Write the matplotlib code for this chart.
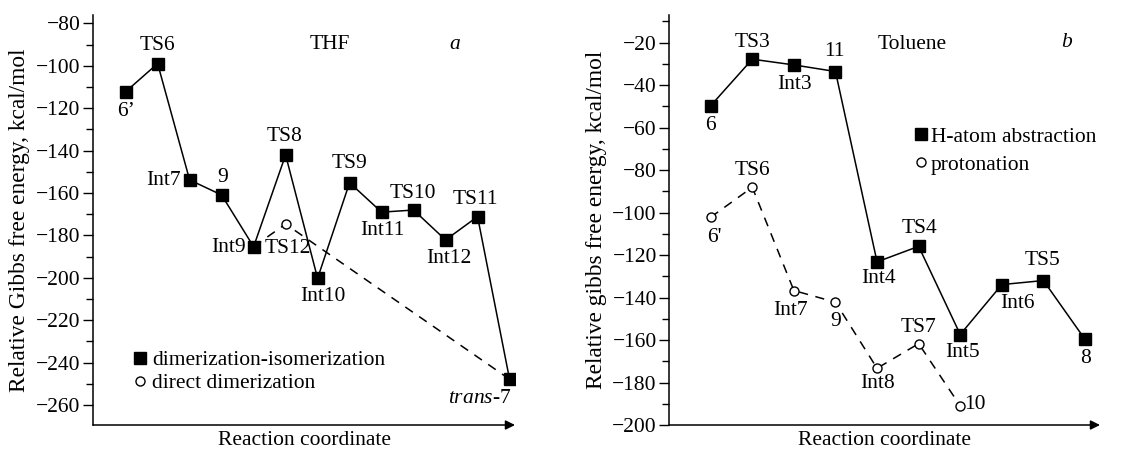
import matplotlib
matplotlib.use('Agg')
import matplotlib.pyplot as plt
from matplotlib.ticker import MultipleLocator
from matplotlib.lines import Line2D

plt.rcParams['font.family'] = ['Liberation Serif', 'DejaVu Serif']
plt.rcParams['mathtext.fontset'] = 'custom'
plt.rcParams['mathtext.rm'] = 'Liberation Serif'
plt.rcParams['mathtext.it'] = 'Liberation Serif:italic'
FS = 15.5
plt.rcParams['font.size'] = FS

# ---------------- data: panel a (THF) ----------------
thf_labels = ["6’", "TS6", "Int7", "9", "Int9", "TS8", "Int10", "TS9",
              "Int11", "TS10", "Int12", "TS11", r"$\mathit{trans}$-7"]
thf_energy = [-112.2, -98.9, -153.8, -160.9, -185.3, -142.0, -200.2,
              -155.1, -169.0, -168.0, -182.1, -171.1, -247.8]
thf_direct_steps = [4, 5, 12]
thf_direct_energy = [-185.3, -174.6, -247.8]
thf_direct_labels = ["", "TS12", ""]

# ---------------- data: panel b (Toluene) ----------------
tol_h_labels = ["6", "TS3", "Int3", "11", "Int4", "TS4", "Int5", "Int6", "TS5", "8"]
tol_h_energy = [-49.7, -27.8, -30.5, -33.6, -123.2, -115.9, -157.4, -133.9, -132.0, -159.7]
tol_p_labels = ["6'", "TS6", "Int7", "9", "Int8", "TS7", "10"]
tol_p_energy = [-102.2, -88.1, -136.7, -142.2, -173.3, -161.7, -191.0]

# label offsets in pixels (dx, dy, ha)  -- styling only
thf_off = [(0, -20, 'center'), (0, 18, 'center'), (-9, -1, 'right'), (1, 17, 'center'),
           (-8, -1, 'right'), (-1, 18, 'center'), (5, -18, 'center'), (0, 19, 'center'),
           (1, -18, 'center'), (-1, 17, 'center'), (3, -19, 'center'), (-2, 17, 'center'),
           (2, -19, 'right')]
thf_direct_off = [None, (2, -24, 'center'), None]
tol_h_off = [(0, -20, 'center'), (0, 17, 'center'), (1, -20, 'center'), (-1, 20, 'center'),
             (1, -17, 'center'), (1, 18, 'center'), (2, -18, 'center'), (16, -19, 'center'),
             (-1, 20, 'center'), (1, -19, 'center')]
tol_p_off = [(4, -20, 'center'), (0, 17, 'center'), (-3, -20, 'center'), (0, -19, 'center'),
             (0, -15, 'center'), (0, 16, 'center'), (4, 1, 'left')]

fig = plt.figure(figsize=(11.47, 4.5), dpi=100)
axa = fig.add_axes([93/1147, 25/450, 422/1147, 410/450])
axb = fig.add_axes([669.3/1147, 25/450, 430.7/1147, 410/450])

LW = 1.1
SQ = dict(marker='s', markersize=9, color='black', markerfacecolor='black')
CI = dict(marker='o', markersize=6.5, color='black', markerfacecolor='white',
          markeredgecolor='black', markeredgewidth=1.0)


def label_points(ax, xs, ys, labels, offs):
    for x, y, lab, off in zip(xs, ys, labels, offs):
        if not lab or off is None:
            continue
        dx, dy, ha = off
        ax.annotate(lab, (x, y), xytext=(dx, dy), textcoords='offset pixels',
                    ha=ha, va='center', fontsize=FS)


def style_axes(ax, ylim, xlim, ylabel):
    ax.set_ylim(*ylim)
    ax.set_xlim(*xlim)
    for s in ('top', 'right', 'bottom'):
        ax.spines[s].set_visible(False)
    ax.spines['left'].set_linewidth(1.1)
    ax.set_xticks([])
    ax.yaxis.set_major_locator(MultipleLocator(20))
    ax.yaxis.set_minor_locator(MultipleLocator(10))
    ax.tick_params(axis='y', which='major', length=7, width=1.0, pad=2, labelsize=FS)
    ax.tick_params(axis='y', which='minor', length=5, width=1.0)
    ax.annotate('', xy=(1.0, 0), xytext=(0, 0), xycoords='axes fraction',
                textcoords='axes fraction',
                arrowprops=dict(arrowstyle='-|>', lw=1.1, color='black',
                                mutation_scale=14, shrinkA=0, shrinkB=0))
    ax.set_xlabel('Reaction coordinate', fontsize=FS, labelpad=4)
    ax.set_ylabel(ylabel, fontsize=16.8)


# ---------------- panel a ----------------
xa = list(range(len(thf_energy)))
axa.plot(thf_direct_steps, thf_direct_energy, color='black', lw=LW, ls=(0, (6, 5)),
         zorder=2)
axa.plot([thf_direct_steps[1]], [thf_direct_energy[1]], ls='none', zorder=4,
         label='direct dimerization', **CI)
axa.plot(xa, thf_energy, lw=LW, zorder=3, label='dimerization-isomerization', **SQ)
label_points(axa, xa, thf_energy, thf_labels, thf_off)
label_points(axa, thf_direct_steps, thf_direct_energy, thf_direct_labels, thf_direct_off)
style_axes(axa, (-269.4, -76), (-1.02, 12.17),
           'Relative Gibbs free energy, kcal/mol')
axa.yaxis.set_label_coords(-0.15, 0.5)
axa.text(0.5616, 0.927, 'THF', transform=axa.transAxes, ha='center', va='center')
axa.text(0.858, 0.927, 'a', transform=axa.transAxes, ha='center', va='center',
         style='italic')
ha_a = [Line2D([], [], ls='none', **SQ), Line2D([], [], ls='none', **CI)]
axa.legend(ha_a, ['dimerization-isomerization', 'direct dimerization'],
           loc='upper left', bbox_to_anchor=(0.097, 0.183), frameon=False,
           handlelength=0.6, handletextpad=0.25, borderpad=0, borderaxespad=0,
           labelspacing=0.15, fontsize=FS)

# ---------------- panel b ----------------
xh = list(range(len(tol_h_energy)))
xp = list(range(len(tol_p_energy)))
axb.plot(xp, tol_p_energy, lw=LW, ls=(0, (6, 5)), zorder=2, **CI)
axb.plot(xh, tol_h_energy, lw=LW, zorder=3, **SQ)
label_points(axb, xh, tol_h_energy, tol_h_labels, tol_h_off)
label_points(axb, xp, tol_p_energy, tol_p_labels, tol_p_off)
style_axes(axb, (-200, -7), (-0.995, 9.36),
           'Relative gibbs free energy, kcal/mol')
axb.yaxis.set_label_coords(-0.145, 0.5)
axb.text(0.563, 0.927, 'Toluene', transform=axb.transAxes, ha='center', va='center')
axb.text(0.923, 0.932, 'b', transform=axb.transAxes, ha='center', va='center',
         style='italic')
hb = [Line2D([], [], ls='none', **SQ), Line2D([], [], ls='none', **CI)]
axb.legend(hb, ['H-atom abstraction', 'protonation'],
           loc='upper left', bbox_to_anchor=(0.57, 0.727), frameon=False,
           handlelength=0.6, handletextpad=0.15, borderpad=0, borderaxespad=0,
           labelspacing=0.35, fontsize=FS)

fig.savefig('out.png', dpi=100)
